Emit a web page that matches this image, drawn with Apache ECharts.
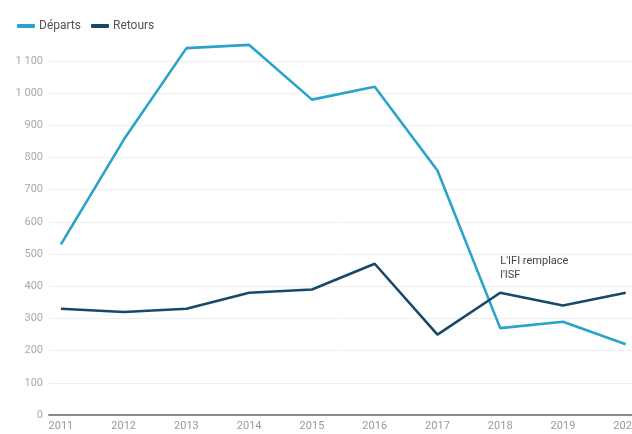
<!DOCTYPE html>
<html><head><meta charset="utf-8">
<script src="https://cdn.jsdelivr.net/npm/echarts@6/dist/echarts.min.js"></script>
<style>html,body{margin:0;padding:0;background:#fff}#c{width:632px;height:434px}</style>
</head><body><div id="c"></div>
<script>
const years = [2011, 2012, 2013, 2014, 2015, 2016, 2017, 2018, 2019, 2020];
const departs = [530, 855, 1140, 1150, 980, 1020, 760, 270, 290, 220];
const retours = [330, 320, 330, 380, 390, 470, 250, 380, 340, 380];
const yTicks = [0, 100, 200, 300, 400, 500, 600, 700, 800, 900, 1000, 1100];
const annotation = { year: 2018, value: 455, text: "L'IFI remplace\nl'ISF" };

const chart = echarts.init(document.getElementById('c'), null, { renderer: 'canvas' });
const fmt = v => String(v).replace(/\B(?=(\d{3})+(?!\d))/g, ' ');
chart.setOption({
  animation: false,
  textStyle: { fontFamily: 'Roboto, sans-serif' },
  legend: {
    left: 12, top: 15, itemWidth: 18, itemHeight: 4, itemGap: 10,
    icon: 'roundRect',
    textStyle: { color: '#555', fontSize: 12, padding: [0, 0, 0, -1] },
    data: ['Départs', 'Retours']
  },
  grid: { left: 49, right: 0, top: 61, bottom: 19, containLabel: false, outerBoundsMode: 'none' },
  xAxis: {
    type: 'value', min: 2010.81, max: 2020.1,
    splitLine: { show: false },
    axisLine: { show: true, onZero: false, lineStyle: { color: '#8a8a8a', width: 2 } },
    axisTick: { show: false },
    axisLabel: { customValues: years, color: '#999', fontSize: 11, margin: 6, formatter: v => String(v), showMinLabel: true, showMaxLabel: true, hideOverlap: false }
  },
  yAxis: {
    type: 'value', min: 0, max: 1100, interval: 100,
    axisLine: { show: false }, axisTick: { show: false },
    splitLine: { lineStyle: { color: '#eeeeee', width: 1 } },
    axisLabel: { color: '#aaa', fontSize: 11, margin: 6, formatter: fmt, customValues: yTicks }
  },
  series: [
    {
      name: 'Départs', type: 'line', clip: false, showSymbol: false, symbol: 'none',
      lineStyle: { color: '#2aa3cc', width: 2.6 }, itemStyle: { color: '#2aa3cc' },
      data: years.map((y, i) => [y, departs[i]])
    },
    {
      name: 'Retours', type: 'line', clip: false, showSymbol: false, symbol: 'none',
      lineStyle: { color: '#18486a', width: 2.6 }, itemStyle: { color: '#18486a' },
      data: years.map((y, i) => [y, retours[i]]),
      markPoint: {
        symbol: 'circle', symbolSize: 0, silent: true,
        data: [{ coord: [annotation.year, annotation.value] }],
        label: {
          show: true, position: 'right', distance: 0, formatter: annotation.text,
          color: '#444', fontSize: 11, lineHeight: 14, align: 'left'
        }
      }
    }
  ]
});
</script>
</body></html>
